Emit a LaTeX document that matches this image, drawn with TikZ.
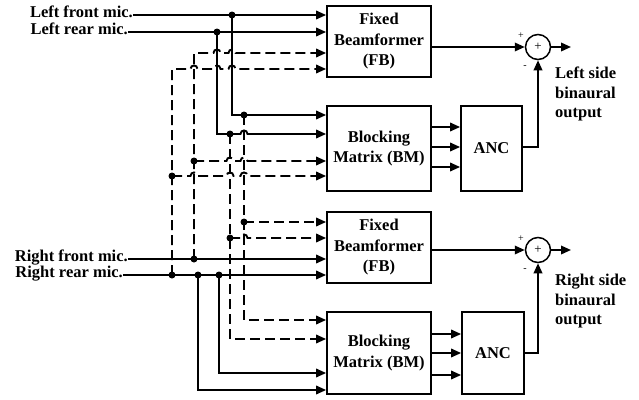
\documentclass[tikz,border=0pt]{standalone}
\usepackage{fontspec}
\setmainfont{Liberation Serif}
\usetikzlibrary{arrows.meta}
\begin{document}
\begin{tikzpicture}[x=1pt,y=-1pt,
  sig/.style={line width=1.9pt},
  dsig/.style={line width=1.9pt, dash pattern=on 10pt off 5pt},
  arr/.style={-{Triangle[length=10pt,width=8.5pt]}},
  blk/.style={draw, line width=1.8pt, inner sep=0pt, align=center, font=\fontsize{16.5}{20.5}\selectfont\bfseries},
  lbl/.style={inner sep=0pt, font=\fontsize{16.5}{19.5}\selectfont\bfseries},
  dot/.style={circle, fill, inner sep=0pt, minimum size=7pt},
  sumc/.style={circle, draw, line width=1.5pt, minimum size=25pt, inner sep=0pt, font=\fontsize{13}{13}\selectfont},
  sgn/.style={inner sep=0pt, font=\fontsize{10}{10}\selectfont},
  hopover/.style 2 args={insert path={-- (#1-3.5,#2) .. controls (#1-3.5,#2-4.7) and (#1+3.5,#2-4.7) .. (#1+3.5,#2)}}
]
\useasboundingbox (0,0) rectangle (639,399);

% blocks
\node[blk, minimum width=104pt, minimum height=71pt] (fb1) at (379,41.5) {Fixed\\Beamformer\\(FB)};
\node[blk, minimum width=104pt, minimum height=85pt] (bm1) at (379,148.5) {Blocking\\Matrix (BM)};
\node[blk, minimum width=61pt, minimum height=85pt] (anc1) at (491.5,148.5) {ANC};
\node[blk, minimum width=104pt, minimum height=71pt] (fb2) at (379,247.5) {Fixed\\Beamformer\\(FB)};
\node[blk, minimum width=104pt, minimum height=82pt] (bm2) at (379,353) {Blocking\\Matrix (BM)};
\node[blk, minimum width=62pt, minimum height=82pt] (anc2) at (493,353) {ANC};

\node[sumc] (s1) at (538,47) {+};
\node[sumc] (s2) at (538,250) {+};
\node[sgn] (p1) at (521,36) {+};
\node[sgn] (m1) at (525,67) {-};
\node[sgn] (p2) at (521,239) {+};
\node[sgn] (m2) at (525,270) {-};
\coordinate (o1) at (571,47);
\coordinate (o2) at (571,250);

\node[lbl, anchor=north west, align=left] (t1) at (555,67) {Left side\\binaural\\output};
\node[lbl, anchor=north west, align=left] (t2) at (555,274) {Right side\\binaural\\output};

% mic labels
\node[lbl, anchor=base east] (lf) at (133,17) {Left front mic.};
\node[lbl, anchor=base east] (lr) at (128,34) {Left rear mic.};
\node[lbl, anchor=base east] (rf) at (128,261) {Right front mic.};
\node[lbl, anchor=base east] (rr) at (123,277) {Right rear mic.};

% junctions
\node[dot] (j1) at (232,15) {};
\node[dot] (j2) at (244,115) {};
\node[dot] (j3) at (244,222) {};
\node[dot] (j4) at (217,32) {};
\node[dot] (j5) at (230,134) {};
\node[dot] (j6) at (230,238) {};
\node[dot] (j7) at (194,259) {};
\node[dot] (j8) at (194,161) {};
\node[dot] (j9) at (172,275) {};
\node[dot] (j10) at (172,176) {};
\node[dot] (j11) at (198,275) {};
\node[dot] (j12) at (219,275) {};

% left front mic
\draw[sig,arr] (lf.east |- 0,15) -- (fb1.west |- 0,15);
\draw[sig,arr] (j1.center) -- (232,115) -- (bm1.west |- 0,115);
\draw[dsig,arr] (j2.center) -- (244,320) -- (bm2.west |- 0,320);
\draw[dsig,arr] (j3.center) -- (fb2.west |- 0,222);

% left rear mic
\draw[sig,arr] (lr.east |- 0,32) -- (fb1.west |- 0,32);
\draw[sig,arr] (j4.center) -- (217,134) [hopover={244}{134}] -- (bm1.west |- 0,134);
\draw[dsig,arr] (j5.center) -- (230,339) -- (bm2.west |- 0,339);
\draw[dsig,arr] (j6.center) [hopover={244}{238}] -- (fb2.west |- 0,238);

% right front mic
\draw[sig,arr] (rf.east |- 0,259) -- (fb2.west |- 0,259);
\draw[dsig,arr] (j7.center) -- (194,53) [hopover={217}{53}] [hopover={232}{53}] -- (fb1.west |- 0,53);
\draw[dsig,arr] (j8.center) [hopover={230}{161}] [hopover={244}{161}] -- (bm1.west |- 0,161);

% right rear mic
\draw[sig,arr] (rr.east |- 0,275) -- (fb2.west |- 0,275);
\draw[dsig,arr] (j9.center) -- (172,69) [hopover={194}{69}] [hopover={217}{69}] [hopover={232}{69}] -- (fb1.west |- 0,69);
\draw[dsig,arr] (j10.center) [hopover={194}{176}] [hopover={230}{176}] [hopover={244}{176}] -- (bm1.west |- 0,176);
\draw[sig,arr] (j12.center) -- (219,373) -- (bm2.west |- 0,373);
\draw[sig,arr] (j11.center) -- (198,390) -- (bm2.west |- 0,390);

% BM -> ANC
\foreach \yy in {127,147,167} \draw[sig,arr] (bm1.east |- 0,\yy) -- (anc1.west |- 0,\yy);
\foreach \yy in {334,353,375} \draw[sig,arr] (bm2.east |- 0,\yy) -- (anc2.west |- 0,\yy);

% outputs
\draw[sig,arr] (fb1.east |- s1.west) -- (s1.west);
\draw[sig,arr] (fb2.east |- s2.west) -- (s2.west);
\draw[sig,arr] (s1.east) -- (o1);
\draw[sig,arr] (s2.east) -- (o2);
\draw[sig,arr] (anc1.east |- 0,147) -| (s1.south);
\draw[sig,arr] (anc2.east |- 0,353) -| (s2.south);
\end{tikzpicture}
\end{document}
